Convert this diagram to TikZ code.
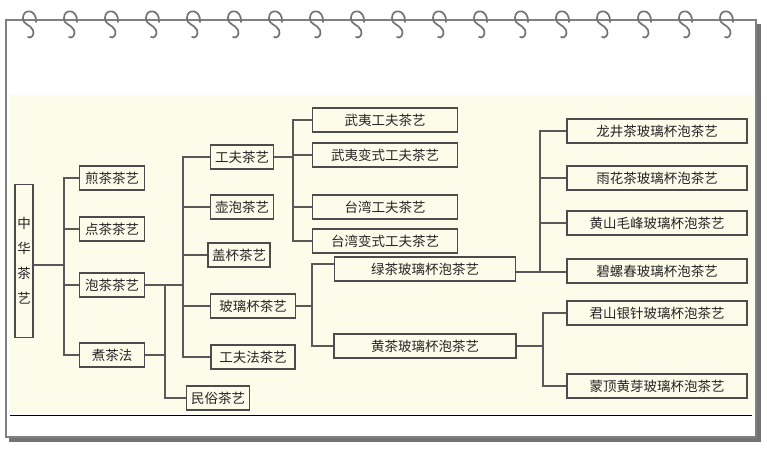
\documentclass[tikz,border=0pt]{standalone}
\usepackage{fontspec}
\newfontfamily\cjk{Noto Sans CJK SC}
\begin{document}
\begin{tikzpicture}[x=1pt,y=-1pt,
  bx/.style={draw=black!70,line width=1.1pt,fill=cream,minimum height=24pt,inner sep=0pt,font=\cjk\fontsize{13.5}{15}\selectfont,text=black!85},
  ln/.style={draw=black!65,line width=1.1pt},
  ring/.style={draw=black!55,line width=1.7pt,line cap=round}]
\definecolor{cream}{RGB}{253,251,234}
\useasboundingbox (0,0) rectangle (767,450);
% frame
\fill[black!55] (9,24) rectangle (761,442);
\fill[white,draw=black!50,line width=1.2pt] (6,20) rectangle (756,437);
\fill[cream] (9,95) rectangle (754,414);
\draw[black,line width=0.8pt] (10,415) -- (752,415);
% rings
\foreach \i in {0,...,17}{
  \pgfmathsetmacro{\cx}{30+\i*41}
  \draw[ring] (\cx+6,22) .. controls (\cx+7,9) and (\cx-7,8) .. (\cx-7,18) .. controls (\cx-7,25) and (\cx,24) .. (\cx+3,30) .. controls (\cx+5,35) and (\cx+1,39) .. (\cx-2,37);
}
% nodes
\node[bx,minimum width=18pt,minimum height=153pt,align=center] (root) at (24,261) {中\\[10pt]华\\[10pt]茶\\[10pt]艺};
\node[bx,minimum width=65pt] (jian) at (112,178) {煎茶茶艺};
\node[bx,minimum width=65pt] (dian) at (112,229) {点茶茶艺};
\node[bx,minimum width=65pt] (pao) at (112,285) {泡茶茶艺};
\node[bx,minimum width=65pt] (zhu) at (112,355) {煮茶法};
\node[bx,minimum width=63pt] (min) at (218,398) {民俗茶艺};
\node[bx,minimum width=63pt] (gf) at (242,157) {工夫茶艺};
\node[bx,minimum width=63pt] (hu) at (242,207) {壶泡茶艺};
\node[bx,minimum width=62pt] (gai) at (239,255) {盖杯茶艺};
\node[bx,minimum width=85pt] (bl) at (253,306) {玻璃杯茶艺};
\node[bx,minimum width=84pt] (gff) at (253,357) {工夫法茶艺};
\node[bx,minimum width=145pt] (wy) at (385,120) {武夷工夫茶艺};
\node[bx,minimum width=145pt] (wyb) at (385,155) {武夷变式工夫茶艺};
\node[bx,minimum width=145pt] (tw) at (385,207) {台湾工夫茶艺};
\node[bx,minimum width=145pt] (twb) at (385,241) {台湾变式工夫茶艺};
\node[bx,minimum width=181pt] (lv) at (425,269) {绿茶玻璃杯泡茶艺};
\node[bx,minimum width=182pt] (hc) at (425,346) {黄茶玻璃杯泡茶艺};
\node[bx,minimum width=180pt] (lj) at (657,131) {龙井茶玻璃杯泡茶艺};
\node[bx,minimum width=180pt] (yh) at (657,178) {雨花茶玻璃杯泡茶艺};
\node[bx,minimum width=180pt] (hs) at (657,223) {黄山毛峰玻璃杯泡茶艺};
\node[bx,minimum width=180pt] (bi) at (657,271) {碧螺春玻璃杯泡茶艺};
\node[bx,minimum width=180pt] (js) at (657,313) {君山银针玻璃杯泡茶艺};
\node[bx,minimum width=180pt] (md) at (657,386) {蒙顶黄芽玻璃杯泡茶艺};
% connectors
\draw[ln] (root.east|-0,265) -- (64,265);
\draw[ln] (jian.west) -| (64,265) |- (zhu.west);
\draw[ln] (dian.west) -- (64,229);
\draw[ln] (pao.west) -- (64,285);
\draw[ln] (pao.east) -- (183,285);
\draw[ln] (165,285) |- (min.west);
\draw[ln] (zhu.east) -- (165,355);
\draw[ln] (gf.west) -| (183,285) |- (gff.west);
\draw[ln] (hu.west) -- (183,207);
\draw[ln] (gai.west) -- (183,255);
\draw[ln] (bl.west) -- (183,306);
\draw[ln] (gf.east) -- (293,157);
\draw[ln] (wy.west) -| (293,157) |- (twb.west);
\draw[ln] (wyb.west) -- (293,155);
\draw[ln] (tw.west) -- (293,207);
\draw[ln] (bl.east) -- (312,306);
\draw[ln] (lv.west|-0,264) -| (312,306) |- (hc.west);
\draw[ln] (lv.east|-0,272) -- (540,272);
\draw[ln] (lj.west) -| (540,272) -- (bi.west|-0,272);
\draw[ln] (yh.west) -- (540,178);
\draw[ln] (hs.west) -- (540,223);
\draw[ln] (hc.east) -- (543,346);
\draw[ln] (js.west) -| (543,346) |- (md.west);
\end{tikzpicture}
\end{document}
